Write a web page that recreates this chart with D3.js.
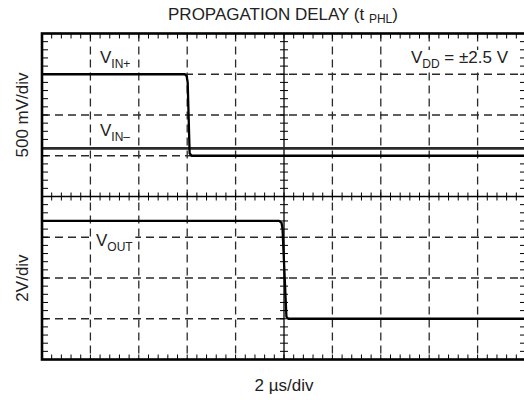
<!DOCTYPE html>
<html>
<head>
<meta charset="utf-8">
<script src="https://cdn.jsdelivr.net/npm/d3@7"></script>
<style>
  body { margin: 0; background: #fff; }
  svg text { font-family: "Liberation Sans", Arial, sans-serif; fill: #222; }
</style>
</head>
<body>
<div id="chart"></div>
<script>
// trace data, time in divisions (2 us/div), level in divisions from screen centre
var vinPlusT = [0, 2.95, 2.99, 3.01, 3.05, 3.09, 10];
var vinPlusV = [3, 3, 2.95, 2.8, 1.06, 1, 1];
var vinMinusT = [0, 10];
var vinMinusV = [1.18, 1.18];
var voutT = [0, 4.9, 4.95, 4.97, 5.05, 5.09, 10];
var voutV = [-0.6, -0.6, -0.65, -0.8, -2.95, -3, -3];

var xDivs = 10, yDivs = 8;

var width = 524, height = 400;
var x = d3.scaleLinear().domain([0, xDivs]).range([42, 526]);
var y = d3.scaleLinear().domain([-4, 4]).range([359.5, 33.5]);

var svg = d3.select('#chart').append('svg')
  .attr('width', width)
  .attr('height', height);

svg.append('defs').append('clipPath').attr('id', 'plot')
  .append('rect')
  .attr('x', x(0)).attr('y', y(4))
  .attr('width', x(xDivs) - x(0)).attr('height', y(-4) - y(4));

var grid = svg.append('g');

// dashed grid
grid.selectAll('line.vg')
  .data(d3.range(1, xDivs).filter(function(d) { return d !== 5; }))
  .enter().append('line')
  .attr('x1', function(d) { return x(d); })
  .attr('x2', function(d) { return x(d); })
  .attr('y1', y(4)).attr('y2', y(-4))
  .attr('stroke', '#2a2a2a').attr('stroke-width', 1.3)
  .attr('stroke-dasharray', '8,5');

grid.selectAll('line.hg')
  .data(d3.range(-3, 4).filter(function(d) { return d !== 0; }))
  .enter().append('line')
  .attr('y1', function(d) { return y(d); })
  .attr('y2', function(d) { return y(d); })
  .attr('x1', x(0)).attr('x2', x(xDivs))
  .attr('stroke', '#2a2a2a').attr('stroke-width', 1.3)
  .attr('stroke-dasharray', '8,5');

// centre axes with minor ticks
grid.append('line')
  .attr('x1', x(0)).attr('x2', x(xDivs)).attr('y1', y(0)).attr('y2', y(0))
  .attr('stroke', '#000').attr('stroke-width', 1.3);
grid.append('line')
  .attr('x1', x(5)).attr('x2', x(5)).attr('y1', y(4)).attr('y2', y(-4))
  .attr('stroke', '#000').attr('stroke-width', 1.3);

var xMinor = d3.range(0, xDivs * 5 + 1).map(function(d) { return d / 5; });
var yMinor = d3.range(-20, 21).map(function(d) { return d / 5; });

grid.selectAll('line.xt')
  .data(xMinor)
  .enter().append('line')
  .attr('x1', function(d) { return x(d); })
  .attr('x2', function(d) { return x(d); })
  .attr('y1', y(0) - 4).attr('y2', y(0) + 4)
  .attr('stroke', '#000').attr('stroke-width', 1);

grid.selectAll('line.yt')
  .data(yMinor)
  .enter().append('line')
  .attr('y1', function(d) { return y(d); })
  .attr('y2', function(d) { return y(d); })
  .attr('x1', x(5) - 4).attr('x2', x(5) + 4)
  .attr('stroke', '#000').attr('stroke-width', 1);

// border ticks
[[y(4), 5], [y(-4), -5]].forEach(function(b) {
  grid.selectAll(null).data(xMinor).enter().append('line')
    .attr('x1', function(d) { return x(d); })
    .attr('x2', function(d) { return x(d); })
    .attr('y1', b[0]).attr('y2', b[0] + b[1])
    .attr('stroke', '#000').attr('stroke-width', 1);
});
[[x(0), 6], [x(xDivs), -6]].forEach(function(b) {
  grid.selectAll(null).data(yMinor).enter().append('line')
    .attr('y1', function(d) { return y(d); })
    .attr('y2', function(d) { return y(d); })
    .attr('x1', b[0]).attr('x2', b[0] + b[1])
    .attr('stroke', '#000').attr('stroke-width', 1);
});

// traces
var line = d3.line()
  .x(function(d) { return x(d[0]); })
  .y(function(d) { return y(d[1]); });

var traces = svg.append('g').attr('clip-path', 'url(#plot)');

traces.append('path')
  .attr('d', line(d3.zip(vinMinusT, vinMinusV)))
  .attr('fill', 'none').attr('stroke', '#2a2a2a').attr('stroke-width', 2.6);

traces.append('path')
  .attr('d', line(d3.zip(vinPlusT, vinPlusV)))
  .attr('fill', 'none').attr('stroke', '#000').attr('stroke-width', 2.3)
  .attr('stroke-linejoin', 'round');

traces.append('path')
  .attr('d', line(d3.zip(voutT, voutV)))
  .attr('fill', 'none').attr('stroke', '#000').attr('stroke-width', 2.3)
  .attr('stroke-linejoin', 'round');

// frame
svg.append('rect')
  .attr('x', x(0)).attr('y', y(4))
  .attr('width', x(xDivs) - x(0)).attr('height', y(-4) - y(4))
  .attr('fill', 'none').attr('stroke', '#000').attr('stroke-width', 2.6);

// labels (white box behind, as in the scope plot)
var labels = svg.append('g');
function subLabel(px, py, main, sub, anchor, tail) {
  var g = labels.append('g');
  var t = g.append('text')
    .attr('x', px).attr('y', py)
    .attr('font-size', 17)
    .attr('text-anchor', anchor || 'start');
  t.append('tspan').text(main);
  t.append('tspan').attr('font-size', 12).attr('dy', 5).text(sub);
  if (tail) t.append('tspan').attr('dy', -5).text(tail);
  var bb = t.node().getBBox();
  g.insert('rect', 'text')
    .attr('x', bb.x - 2).attr('y', bb.y + 2)
    .attr('width', bb.width + 4).attr('height', bb.height - 2)
    .attr('fill', '#fff');
  return t;
}

var title = svg.append('text')
  .attr('x', 283).attr('y', 20)
  .attr('text-anchor', 'middle')
  .attr('font-size', 17);
title.append('tspan').text('PROPAGATION DELAY (t ');
title.append('tspan').attr('font-size', 12).attr('dy', 3).text('PHL');
title.append('tspan').attr('dy', -3).text(')');

subLabel(100, 63, 'V', 'IN+');
subLabel(100, 136, 'V', 'IN\u2013');
subLabel(96, 246, 'V', 'OUT');
subLabel(508, 63, 'V', 'DD', 'end', ' = \u00b12.5 V');

svg.append('text')
  .attr('transform', 'translate(28,' + y(2) + ') rotate(-90)')
  .attr('text-anchor', 'middle')
  .attr('font-size', 17)
  .text('500 mV/div');

svg.append('text')
  .attr('transform', 'translate(28,' + y(-2) + ') rotate(-90)')
  .attr('text-anchor', 'middle')
  .attr('font-size', 17)
  .text('2V/div');

svg.append('text')
  .attr('x', 284).attr('y', 391)
  .attr('text-anchor', 'middle')
  .attr('font-size', 17)
  .text('2 \u00b5s/div');
</script>
</body>
</html>
